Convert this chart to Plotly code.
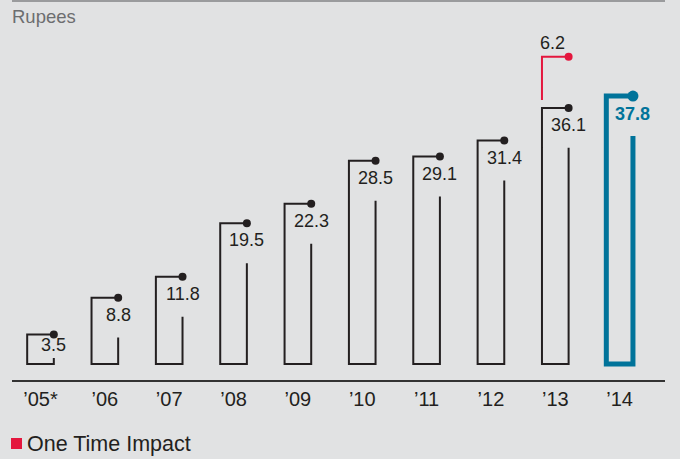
import plotly.graph_objects as go

# Earnings per share, rupees
years = ["’05*", "’06", "’07", "’08", "’09", "’10", "’11", "’12", "’13", "’14"]
eps = [3.5, 8.8, 11.8, 19.5, 22.3, 28.5, 29.1, 31.4, 36.1, 37.8]
one_time_year = "’13"
one_time_impact = 6.2

BG = "#e1e2e3"
INK = "#231f20"
RED = "#e4173e"
BLUE = "#00739a"
FONT = "Liberation Sans, Arial, sans-serif"

PX_PER_UNIT = 6.95  # vertical scale, pixels per rupee
HALF_W = 0.207      # half bar width, category units
BASE = -0.75        # bracket bottom sits a little above the axis line
LEG_GAP = 5.75      # right leg stops below the value label
LABEL_DROP = 17 / PX_PER_UNIT
LABEL_FLOOR = 2.0   # keeps the label of a short bar clear of its floor
RED_GAP = 1.15      # space between the bar top and the one-time segment

fig = go.Figure()

for i, (yr, v) in enumerate(zip(years, eps)):
    last = i == len(years) - 1
    color = BLUE if last else INK
    lw = 5 if last else 2
    xl, xr = i - HALF_W, i + HALF_W
    leg_top = max(v - LEG_GAP, BASE + 0.85)
    fig.add_trace(go.Scatter(
        x=[xr, xr, xl, xl, xr],
        y=[leg_top, BASE, BASE, v, v],
        mode="lines",
        line=dict(color=color, width=lw),
        hoverinfo="skip", showlegend=False,
    ))
    fig.add_trace(go.Scatter(
        x=[xr], y=[v], mode="markers",
        marker=dict(color=color, size=11 if last else 8),
        hoverinfo="skip", showlegend=False,
    ))
    label_y = max(v - LABEL_DROP, LABEL_FLOOR)
    fig.add_annotation(
        x=xr, y=label_y, yshift=-1 if last else 0,
        text=f"<b>{v}</b>" if last else f"{v}",
        showarrow=False, xanchor="center", yanchor="middle",
        font=dict(family=FONT, size=18, color=color),
    )

# one-time impact stacked above its year
k = years.index(one_time_year)
base_v = eps[k] + RED_GAP
top_v = base_v + one_time_impact
xl, xr = k - HALF_W, k + HALF_W
fig.add_trace(go.Scatter(
    x=[xl, xl, xr], y=[base_v, top_v, top_v], mode="lines",
    line=dict(color=RED, width=2), hoverinfo="skip", showlegend=False,
))
fig.add_trace(go.Scatter(
    x=[xr], y=[top_v], mode="markers", marker=dict(color=RED, size=8),
    hoverinfo="skip", showlegend=False,
))
fig.add_annotation(
    x=k - 0.04, y=top_v, yshift=14, text=f"{one_time_impact}",
    showarrow=False, xanchor="center", yanchor="middle",
    font=dict(family=FONT, size=18, color=INK),
)

# header rule and unit label
fig.add_shape(type="line", xref="paper", yref="paper",
              x0=0, x1=1, y0=1.0, y1=1.0,
              line=dict(color="#9a9b9d", width=2))
fig.add_annotation(
    xref="paper", yref="paper", x=0, y=1, yshift=-15, xshift=-2,
    text="Rupees", showarrow=False, xanchor="left", yanchor="middle",
    font=dict(family=FONT, size=18.5, color="#6d6e70"),
)

# legend key
fig.add_shape(type="rect", xref="paper", yref="paper",
              x0=-1 / 653, x1=10 / 653, y0=-69 / 379, y1=-58 / 379,
              fillcolor=RED, line=dict(width=0))
fig.add_annotation(
    xref="paper", yref="paper", x=13 / 653, y=-63.5 / 379,
    text="One Time Impact", showarrow=False,
    xanchor="left", yanchor="middle",
    font=dict(family=FONT, size=21.5, color=INK),
)

fig.update_layout(
    width=680, height=459,
    margin=dict(l=12, r=15, t=1, b=79),
    paper_bgcolor=BG, plot_bgcolor=BG,
    xaxis=dict(
        range=[-0.4429, 9.705],
        tickvals=list(range(len(years))), ticktext=years,
        showline=True, linecolor="#333333", linewidth=2,
        ticks="", showgrid=False, zeroline=False,
        tickfont=dict(family=FONT, size=20, color=INK),
        fixedrange=True,
    ),
    yaxis=dict(
        range=[-3.05, 51.48], visible=False,
        showgrid=False, zeroline=False, fixedrange=True,
    ),
    showlegend=False,
)

fig.write_html("out.html")
